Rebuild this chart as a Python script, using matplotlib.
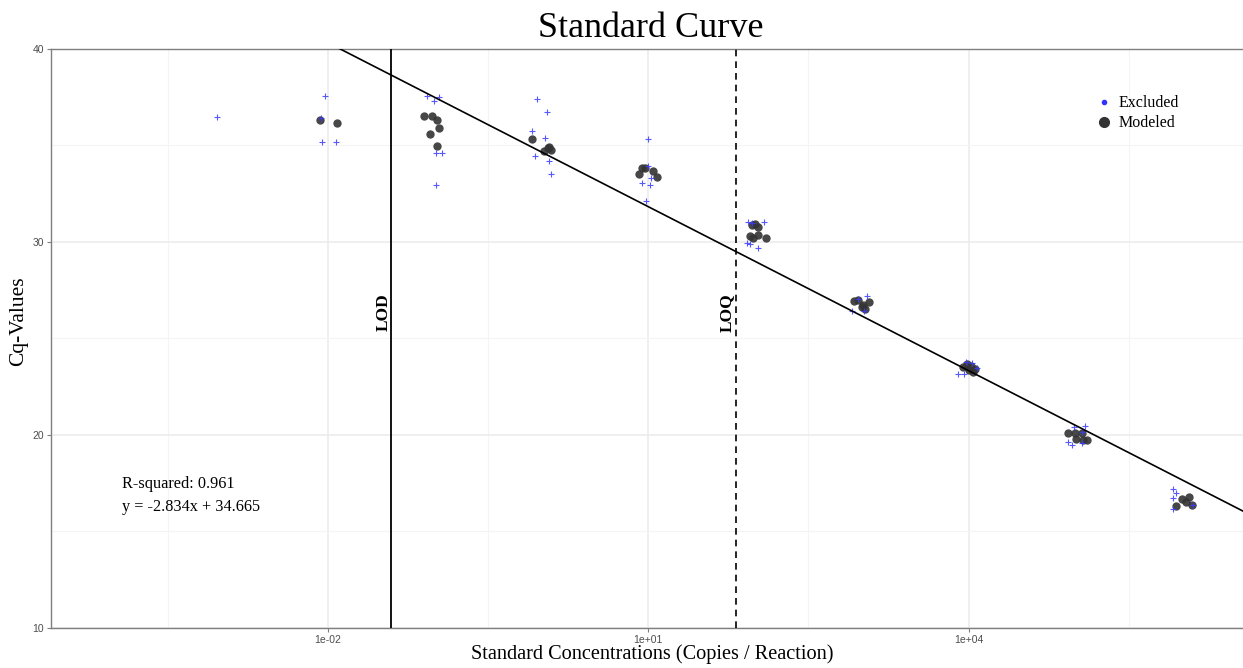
import numpy as np
import matplotlib
matplotlib.use("Agg")
import matplotlib.pyplot as plt
from matplotlib.lines import Line2D

# log10 of standard concentration (copies / reaction) and Cq
excluded_log_conc = [-3.04,
                     -2.025, -2.053, -1.922, -2.063,
                     -1.073, -1.005, -0.955, -0.986, -0.933, -0.986,
                     -0.037, 0.051, -0.090, 0.037, -0.056, 0.072, 0.091,
                     1.002, 0.997, 1.024, 0.946, 1.018, 0.978,
                     1.938, 1.970, 2.088, 1.923, 1.954, 2.032,
                     2.906, 2.968, 3.053, 3.022,
                     3.902, 3.958, 3.977, 4.033, 4.080,
                     4.991, 5.094, 4.929, 4.972, 5.066, 5.060,
                     5.918, 5.940, 5.912, 5.912, 6.105]
excluded_cq = [36.47,
               37.56, 35.18, 35.18, 36.42,
               37.56, 37.32, 37.53, 34.62, 34.62, 32.95,
               37.41, 36.75, 35.75, 35.40, 34.45, 34.21, 33.52,
               35.33, 33.95, 33.33, 33.07, 32.95, 32.14,
               31.05, 31.00, 31.05, 29.96, 29.88, 29.70,
               26.43, 27.02, 27.21, 26.43,
               23.15, 23.15, 23.77, 23.72, 23.46,
               20.39, 20.47, 19.61, 19.47, 19.56, 20.16,
               17.19, 16.97, 16.74, 16.14, 16.36]

modeled_log_conc = [-2.072, -1.913,
                    -1.096, -1.026, -0.979, -0.961, -1.045, -0.979,
                    -0.084, 0.025, 0.066, 0.088, 0.075,
                    0.915, 0.946, 0.971, 1.049, 1.086,
                    1.970, 2.001, 2.026, 1.954, 1.985, 2.026, 2.101,
                    2.931, 2.968, 3.006, 3.031, 3.071, 3.015,
                    3.949, 3.986, 4.024, 4.061, 4.042, 4.005,
                    4.929, 4.997, 5.060, 5.004, 5.075, 5.107,
                    5.940, 5.996, 6.036, 6.067, 6.090]
modeled_cq = [36.32, 36.16,
              36.54, 36.54, 36.30, 35.90, 35.58, 34.97,
              35.32, 34.71, 34.85, 34.76, 34.94,
              33.52, 33.85, 33.82, 33.68, 33.35,
              30.88, 30.91, 30.79, 30.31, 30.22, 30.36, 30.19,
              26.95, 26.99, 26.61, 26.51, 26.90, 26.73,
              23.51, 23.67, 23.57, 23.41, 23.26, 23.36,
              20.11, 20.08, 20.08, 19.78, 19.73, 19.73,
              16.32, 16.66, 16.53, 16.76, 16.36]

slope = -2.834
intercept = 34.665
r_squared = 0.961
lod_log = -1.405
loq_log = 1.825

x_lim_log = (-4.594, 6.57)
y_lim = (10, 40)
x_ticks_log = [-2, 1, 4]
x_tick_labels = ["1e-02", "1e+01", "1e+04"]
y_ticks = [10, 20, 30, 40]

serif = ["Liberation Serif", "DejaVu Serif"]
grid_col = "#ebebeb"

fig = plt.figure(figsize=(12.43, 6.68), dpi=100)
ax = fig.add_axes([0.0408, 0.0603, 0.9592, 0.8663])

ax.set_xscale("log")
ax.set_xlim(10 ** x_lim_log[0], 10 ** x_lim_log[1])
ax.set_ylim(*y_lim)

# grid like ggplot theme_bw
ax.set_xticks([10.0 ** v for v in x_ticks_log])
ax.set_xticklabels(x_tick_labels)
ax.set_xticks([10.0 ** v for v in (-3.5, -0.5, 2.5, 5.5)], minor=True)
ax.set_xticklabels([], minor=True)
ax.set_yticks(y_ticks)
ax.set_yticks([15, 25, 35], minor=True)
ax.grid(which="major", color=grid_col, lw=1.1)
ax.grid(which="minor", color="#f4f4f4", lw=0.8)
ax.set_axisbelow(True)
ax.tick_params(which="minor", length=0)
ax.tick_params(which="major", length=3, width=0.8, color="#7f7f7f",
               labelsize=7.5, labelcolor="#4d4d4d", pad=2)
for lbl in ax.get_xticklabels() + ax.get_yticklabels():
    lbl.set_family("Liberation Sans")
for side in ("top", "left", "bottom"):
    ax.spines[side].set_color("#7f7f7f")
    ax.spines[side].set_linewidth(1.0)
ax.spines["right"].set_visible(False)

# points
ax.scatter(10 ** np.array(modeled_log_conc), modeled_cq, s=36, color="#333333",
           alpha=0.9, linewidths=0, zorder=3)
ax.scatter(10 ** np.array(excluded_log_conc), excluded_cq, marker="+", s=22,
           color="#3b3bff", alpha=0.85, linewidths=0.8, zorder=4)

# fitted line
xs = np.linspace(x_lim_log[0], x_lim_log[1], 50)
ax.plot(10 ** xs, slope * xs + intercept, color="black", lw=1.2, zorder=5)

# LOD / LOQ
ax.axvline(10 ** lod_log, color="black", lw=1.3, zorder=5)
ax.axvline(10 ** loq_log, color="black", lw=1.2, ls=(0, (4, 3)), zorder=5)
ax.text(10 ** (lod_log - 0.075), 26.35, "LOD", rotation=90, ha="center", va="center",
        family=serif, fontweight="bold", fontsize=12.5)
ax.text(10 ** (loq_log - 0.085), 26.35, "LOQ", rotation=90, ha="center", va="center",
        family=serif, fontweight="bold", fontsize=12.5)

# equation
ax.text(10 ** -3.926, 17.45, "R-squared: {:.3f}".format(r_squared), family=serif,
        fontsize=11.7, va="center", ha="left")
ax.text(10 ** -3.926, 16.26, "y = {:.3f}x + {:.3f}".format(slope, intercept), family=serif,
        fontsize=11.7, va="center", ha="left")

# legend
handles = [Line2D([], [], marker="o", ls="", color="#3333ff", markersize=3),
           Line2D([], [], marker="o", ls="", color="#333333", markersize=7)]
ax.legend(handles, ["Excluded", "Modeled"], loc="upper right", bbox_to_anchor=(0.958, 0.945),
          frameon=False, prop={"family": serif, "size": 11.5}, handletextpad=0.3,
          labelspacing=0.25, handlelength=1.2)

ax.set_title("Standard Curve", family=serif, fontsize=26, pad=9, x=0.503)
ax.set_xlabel("Standard Concentrations (Copies / Reaction)", family=serif, fontsize=14.6)
ax.xaxis.set_label_coords(0.5045, -0.0285)
ax.set_ylabel("Cq-Values", family=serif, fontsize=15.5)
ax.yaxis.set_label_coords(-0.019, 0.53)

fig.savefig("out.png", dpi=100)
